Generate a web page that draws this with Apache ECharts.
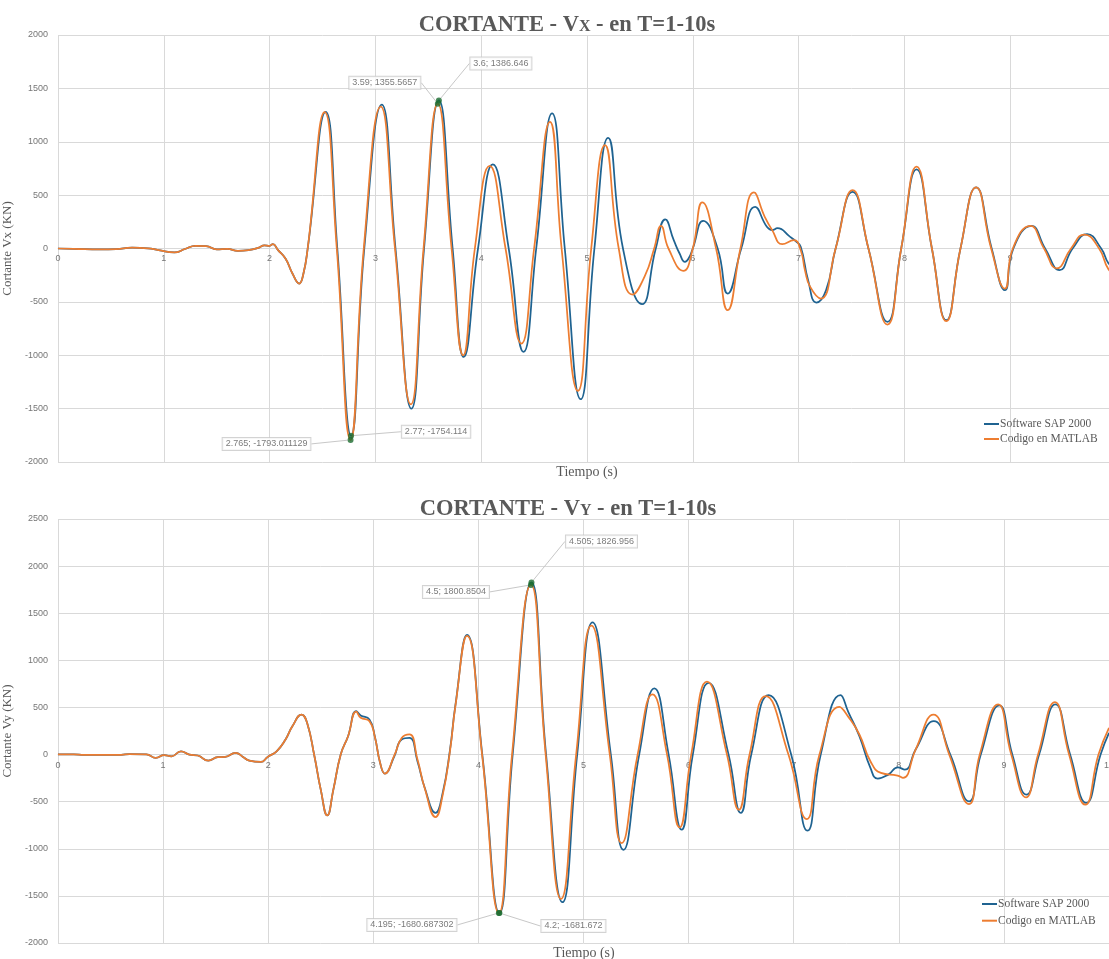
<!DOCTYPE html>
<html>
<head>
<meta charset="utf-8">
<script src="https://cdn.jsdelivr.net/npm/echarts@6/dist/echarts.min.js"></script>
<style>
  html, body { margin: 0; padding: 0; background: #fff; overflow: hidden; width: 1109px; height: 959px; }
  #chart { width: 1130px; height: 959px; }
</style>
</head>
<body>
<div id="chart"></div>
<script>
// Cortante Vx (KN) vs tiempo (s) — SAP 2000
const vxSap = [
  [0,0],[0.15,-3],[0.4,-8],[0.55,-5],[0.7,8],[0.85,2],[0.95,-15],[1.1,-37],[1.2,-5],[1.3,25],[1.4,22],
  [1.5,-9],[1.6,-3],[1.7,-22],[1.8,-15],[1.9,9],[1.95,30],[2.0,25],[2.03,40],[2.08,-15],[2.15,-94],
  [2.216,-234],[2.28,-328],[2.32,-234],[2.36,0],[2.53,1281],[2.64,0],[2.895,0],[3.06,1347],[3.19,0],
  [3.34,-1500],[3.46,0],[3.73,0],[3.835,-1016],[3.97,0],[4.11,787],[4.26,0],[4.40,-969],[4.52,0],
  [4.67,1266],[4.79,0],[4.94,-1412],[5.07,0],[5.2,1037],[5.34,0],[5.52,-522],[5.65,0],[5.74,272],
  [5.82,78],[5.875,-47],[5.926,-125],[5.96,-94],[6.0,0],[6.098,259],[6.235,0],[6.33,-422],[6.458,0],
  [6.59,390],[6.70,203],[6.75,172],[6.80,190],[6.92,109],[6.97,72],[7.02,16],[7.09,-297],[7.168,-506],
  [7.26,-390],[7.35,0],[7.51,531],[7.66,0],[7.84,-688],[7.97,0],[8.115,741],[8.26,0],[8.396,-672],
  [8.53,0],[8.678,572],[8.825,0],[8.95,-391],[9.03,0],[9.2,212],[9.33,0],[9.467,-203],[9.59,0],
  [9.727,134],[9.86,0],[9.93,-140],[10,-190]
];
// Cortante Vx (KN) vs tiempo (s) — MATLAB
const vxMatlab = [
  [0,0],[0.15,-3],[0.4,-8],[0.55,-5],[0.7,8],[0.85,2],[0.95,-15],[1.1,-37],[1.2,-5],[1.3,25],[1.4,22],
  [1.5,-9],[1.6,-3],[1.7,-22],[1.8,-15],[1.9,9],[1.95,30],[2.0,25],[2.03,40],[2.08,-15],[2.15,-94],
  [2.216,-234],[2.28,-328],[2.32,-234],[2.36,0],[2.52,1278],[2.635,0],[2.89,0],[3.05,1330],[3.185,0],
  [3.335,-1460],[3.455,0],[3.72,0],[3.83,-1000],[3.94,0],[4.08,775],[4.23,0],[4.38,-890],[4.50,0],
  [4.65,1187],[4.76,0],[4.914,-1334],[5.04,0],[5.17,969],[5.30,0],[5.43,-431],[5.55,-250],[5.635,0],
  [5.70,212],[5.77,0],[5.91,-209],[6.0,0],[6.09,431],[6.22,0],[6.33,-578],[6.45,0],[6.578,525],
  [6.68,297],[6.75,172],[6.846,41],[6.955,78],[7.02,-16],[7.06,-203],[7.11,-360],[7.21,-469],[7.35,0],
  [7.51,547],[7.66,0],[7.84,-712],[7.97,0],[8.115,766],[8.26,0],[8.396,-681],[8.53,0],[8.678,572],
  [8.82,0],[8.95,-375],[9.025,0],[9.19,212],[9.32,0],[9.44,-187],[9.575,0],[9.70,131],[9.84,0],
  [9.93,-197],[10,-240]
];
// Labelled extremes (t; V)
const vxSapMarks = [[3.6,1386.646],[2.77,-1754.114]];
const vxMatlabMarks = [[3.59,1355.5657],[2.765,-1793.011129]];

// Cortante Vy (KN) vs tiempo (s) — SAP 2000
const vySap = [
  [0,3],[0.15,3],[0.25,-3],[0.6,-3],[0.68,5],[0.84,3],[0.93,-35],[1.01,-7],[1.08,-18],[1.17,35],[1.25,0],
  [1.33,-10],[1.43,-64],[1.52,-28],[1.59,-25],[1.69,18],[1.76,-25],[1.82,-64],[1.93,-78],[1.995,-25],
  [2.08,35],[2.165,160],[2.23,300],[2.318,425],[2.37,337],[2.44,-18],[2.5,-372],[2.562,-645],[2.62,-372],
  [2.69,0],[2.76,195],[2.838,461],[2.88,415],[2.963,372],[3.014,195],[3.065,-89],[3.11,-202],[3.2,-18],
  [3.27,160],[3.344,177],[3.42,-71],[3.49,-355],[3.592,-620],[3.66,-408],[3.73,53],[3.78,514],[3.891,1269],
  [4.037,0],[4.326,0],[4.644,0],[4.80,-1567],[4.94,0],[5.086,1404],[5.26,0],[5.38,-1011],[5.53,0],
  [5.674,702],[5.81,0],[5.933,-798],[6.04,0],[6.19,762],[6.38,0],[6.496,-620],[6.596,0],[6.762,631],
  [6.976,0],[7.131,-808],[7.257,0],[7.446,631],[7.52,450],[7.625,195],[7.73,-142],[7.80,-255],[7.90,-213],
  [7.99,-135],[8.057,-160],[8.16,53],[8.333,355],[8.49,0],[8.668,-496],[8.78,0],[8.955,521],[9.08,0],
  [9.214,-426],[9.335,0],[9.49,532],[9.63,0],[9.784,-514],[9.92,0],[10,230]
];
// Cortante Vy (KN) vs tiempo (s) — MATLAB
const vyMatlab = [
  [0,3],[0.15,3],[0.25,-3],[0.6,-3],[0.68,5],[0.84,3],[0.93,-35],[1.01,-7],[1.08,-18],[1.17,35],[1.25,0],
  [1.33,-10],[1.43,-64],[1.52,-28],[1.59,-25],[1.69,18],[1.76,-25],[1.82,-64],[1.93,-78],[1.995,-25],
  [2.08,35],[2.165,160],[2.23,300],[2.318,425],[2.37,337],[2.44,-18],[2.5,-372],[2.562,-645],[2.62,-372],
  [2.69,0],[2.76,195],[2.838,455],[2.88,390],[2.963,355],[3.014,190],[3.065,-89],[3.11,-202],[3.2,-10],
  [3.27,175],[3.344,213],[3.42,-50],[3.49,-360],[3.592,-663],[3.66,-430],[3.73,40],[3.78,505],[3.891,1260],
  [4.035,0],[4.32,0],[4.64,0],[4.786,-1532],[4.93,0],[5.075,1369],[5.25,0],[5.363,-940],[5.515,0],
  [5.656,638],[5.795,0],[5.915,-773],[6.025,0],[6.175,773],[6.365,0],[6.478,-585],[6.58,0],[6.734,620],
  [6.95,0],[7.124,-684],[7.245,0],[7.435,507],[7.52,400],[7.625,213],[7.73,-71],[7.83,-195],[7.988,-223],
  [8.04,-248],[8.16,53],[8.33,425],[8.48,0],[8.668,-525],[8.77,0],[8.945,532],[9.07,0],[9.21,-454],
  [9.325,0],[9.485,557],[9.62,0],[9.775,-532],[9.9,0],[10,284]
];
// Labelled extremes (t; V)
const vySapMarks = [[4.505,1826.956],[4.2,-1681.672]];
const vyMatlabMarks = [[4.5,1800.8504],[4.195,-1680.687302]];

const seriesNames = ['Software SAP 2000', 'Codigo en MATLAB'];

const BLUE = '#1F6391';
const ORANGE = '#ED7D31';
const MARK = '#1B6B2F';
const GRID = '#d9d9d9';
const TEXT = '#595959';
const TICK = '#767676';
const SERIF = '"Liberation Serif", "Times New Roman", serif';
const SANS = '"Liberation Sans", Arial, sans-serif';

function withMarks(curve, marks) {
  return curve.concat(marks).sort((a, b) => a[0] - b[0]);
}

// plot boxes: [left, top, width, height] and y range of each panel
const panels = [
  { box: [58, 35, 1058, 427], yMin: -2000, yMax: 2000 },
  { box: [58, 519, 1051, 424], yMin: -2000, yMax: 2500 }
];
// callout offsets (px) from each labelled point: SAP first, then MATLAB
const calloutOffsets = [
  [[62, -37], [85, -4], [-53, -21], [-84, 4]],
  [[70, -41], [74, 13], [-75, 7], [-87, 12]]
];

function xAxisFor(i) {
  const p = panels[i];
  // lift the time axis from the bottom edge up to V = 0
  const zeroLift = p.box[3] * (0 - p.yMin) / (p.yMax - p.yMin);
  return {
    gridIndex: i, type: 'value', min: 0, max: 10, interval: 1,
    offset: -zeroLift,
    axisLine: { show: true, onZero: false, lineStyle: { color: GRID, width: 1 } },
    axisTick: { show: false },
    axisLabel: { fontSize: 9, color: TICK, margin: 6, fontFamily: SANS, formatter: v => String(v) },
    splitLine: { show: true, lineStyle: { color: GRID, width: 1 } }
  };
}
function yAxisFor(i, name) {
  const p = panels[i];
  return {
    gridIndex: i, type: 'value', min: p.yMin, max: p.yMax, interval: 500,
    axisLine: { show: false }, axisTick: { show: false },
    axisLabel: { fontSize: 9, color: TICK, margin: 10, fontFamily: SANS, formatter: v => String(v) },
    splitLine: { show: true, lineStyle: { color: GRID, width: 1 } },
    name: name, nameLocation: 'middle', nameGap: 44, nameRotate: 90,
    nameTextStyle: { fontFamily: SERIF, fontSize: 13, color: TEXT }
  };
}
function lineSeries(name, data, color, i) {
  return {
    type: 'line', name: name, xAxisIndex: i, yAxisIndex: i, data: data,
    smooth: 0.5, symbol: 'none', silent: true,
    lineStyle: { width: 1.75, color: color }, itemStyle: { color: color }, z: 2
  };
}
function markSeries(sapMarks, matlabMarks, i) {
  const offs = calloutOffsets[i];
  return {
    type: 'scatter', xAxisIndex: i, yAxisIndex: i, silent: true, z: 5,
    data: sapMarks.concat(matlabMarks),
    symbol: 'circle', symbolSize: 6, itemStyle: { color: MARK },
    label: {
      show: true, position: 'inside',
      formatter: p => p.value[0] + '; ' + p.value[1],
      fontFamily: SANS, fontSize: 9, color: TEXT,
      backgroundColor: '#fff', borderColor: '#c8c8c8', borderWidth: 1, padding: [2, 3, 1, 3]
    },
    labelLine: { show: true, lineStyle: { color: '#c8c8c8', width: 1 } },
    labelLayout: p => ({ dx: offs[p.dataIndex][0], dy: offs[p.dataIndex][1] })
  };
}
function titleFor(letter, x, y) {
  return {
    text: '{a|CORTANTE - V}{s|' + letter + '}{a| - en T=1-10s}',
    left: x, top: y, textAlign: 'center', textVerticalAlign: 'middle', padding: 0,
    textStyle: {
      rich: {
        a: { fontFamily: SERIF, fontWeight: 'bold', fontSize: 22.5, color: TEXT, verticalAlign: 'middle', lineHeight: 24 },
        s: { fontFamily: SERIF, fontWeight: 'bold', fontSize: 16, color: TEXT, verticalAlign: 'middle', lineHeight: 24, padding: [4, 0, 0, 0] }
      }
    }
  };
}
function axisTitle(text, x, y) {
  return {
    text: text, left: x, top: y, textAlign: 'center', textVerticalAlign: 'middle', padding: 0,
    textStyle: { fontFamily: SERIF, fontSize: 14, fontWeight: 'normal', color: TEXT }
  };
}
function legendFor(x, y, gap) {
  return {
    orient: 'vertical', left: x, top: y, padding: 0, itemGap: gap,
    itemWidth: 15, itemHeight: 2, icon: 'rect', selectedMode: false,
    data: seriesNames,
    textStyle: { fontFamily: SERIF, fontSize: 11.5, color: TEXT, padding: [0, 0, 0, -4], lineHeight: 12 }
  };
}

const chart = echarts.init(document.getElementById('chart'), null, { renderer: 'canvas' });
chart.setOption({
  backgroundColor: '#ffffff',
  animation: false,
  title: [
    titleFor('X', 567, 25),
    titleFor('Y', 568, 509),
    axisTitle('Tiempo (s)', 587, 472),
    axisTitle('Tiempo (s)', 584, 953)
  ],
  legend: [legendFor(984, 418, 3), legendFor(982, 898, 4.7)],
  grid: panels.map(p => ({
    left: p.box[0], top: p.box[1], width: p.box[2], height: p.box[3],
    containLabel: false, outerBoundsMode: 'none'
  })),
  xAxis: [xAxisFor(0), xAxisFor(1)],
  yAxis: [yAxisFor(0, 'Cortante Vx (KN)'), yAxisFor(1, 'Cortante Vy (KN)')],
  series: [
    lineSeries(seriesNames[0], withMarks(vxSap, vxSapMarks), BLUE, 0),
    lineSeries(seriesNames[1], withMarks(vxMatlab, vxMatlabMarks), ORANGE, 0),
    markSeries(vxSapMarks, vxMatlabMarks, 0),
    lineSeries(seriesNames[0], withMarks(vySap, vySapMarks), BLUE, 1),
    lineSeries(seriesNames[1], withMarks(vyMatlab, vyMatlabMarks), ORANGE, 1),
    markSeries(vySapMarks, vyMatlabMarks, 1)
  ]
});
</script>
</body>
</html>
